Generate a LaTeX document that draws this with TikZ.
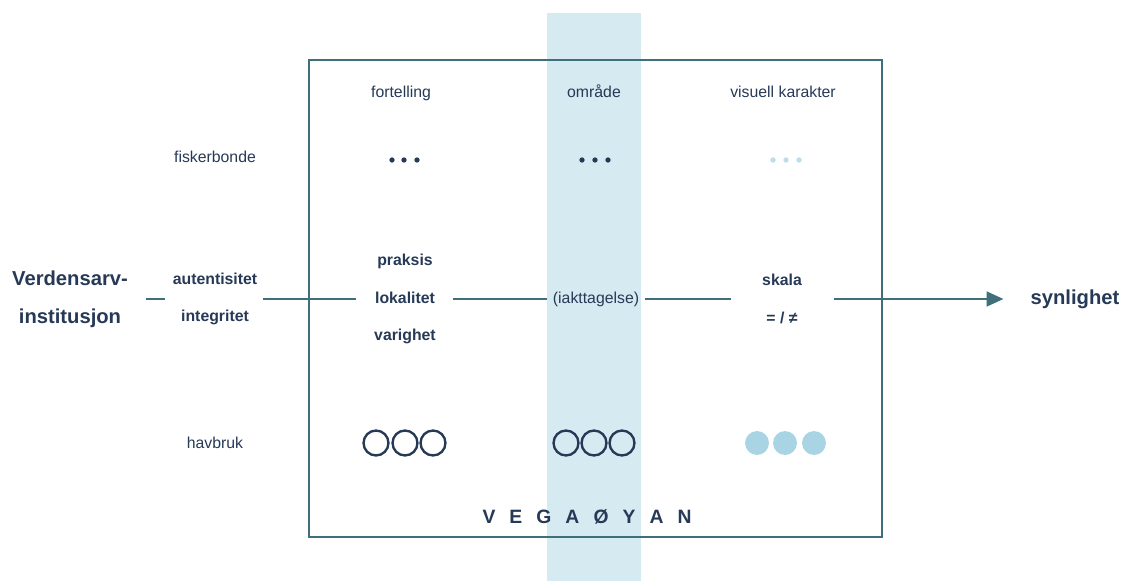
\documentclass[tikz,border=0pt]{standalone}
\usepackage{fontspec}
\setmainfont{Liberation Sans}
\usetikzlibrary{arrows.meta,positioning}

\definecolor{navy}{HTML}{263956}
\definecolor{linecol}{HTML}{3E6F7B}
\definecolor{bandcol}{HTML}{D6EAF2}
\definecolor{pale}{HTML}{A9D4E3}

\tikzset{
  lbl/.style={text=navy, font=\fontsize{9}{11}\selectfont},
  key/.style={text=navy, font=\bfseries\fontsize{9}{21.3}\selectfont, align=center},
  big/.style={text=navy, font=\bfseries\fontsize{11.5}{21.5}\selectfont, align=center},
  conn/.style={color=linecol, line width=0.9pt},
}

\begin{document}
\begin{tikzpicture}[x=0.02cm, y=-0.02cm, >={Triangle[length=9.5pt,width=8.5pt]}]
    \useasboundingbox (0,0) rectangle (1121,581);
    \fill[bandcol] (547,13) rectangle (641,581);
    \draw[linecol, line width=1.1pt] (309,60) rectangle (882,537);

    \node[lbl, anchor=base] (fort) at (401,97) {fortelling};
    \node[lbl, anchor=base] (omr)  at (594,97) {område};
    \node[lbl, anchor=base] (vis)  at (783,97) {visuell karakter};
    \node[lbl] (fisk) at (215,157) {fiskerbonde};
    \node[lbl] (havb) at (215,443) {havbruk};

    \node[big] (verd)  at (70,299)  {Verdensarv-\\institusjon};
    \node[key] (aut)   at (215,299) {autentisitet\\integritet};
    \node[key] (prak)  at (405,299) {praksis\\lokalitet\\varighet};
    \node[lbl] (iakt)  at (596,299) {(iakttagelse)};
    \node[key] (skala) at (782,299) {skala\\= / ≠};
    \node[big] (syn)   at (1075,299) {synlighet};
    \node[text=navy, font=\bfseries\fontsize{11}{13}\selectfont] (vega) at (587,517)
      {V\hspace{8pt}E\hspace{8pt}G\hspace{8pt}A\hspace{8pt}Ø\hspace{8pt}Y\hspace{8pt}A\hspace{8pt}N};

    \path[conn]
    (verd)  edge [shorten <=7pt, shorten >=1pt] (aut)
    (aut)   edge [shorten >=7pt]                (prak)
    (prak)  edge [shorten <=6pt]                (iakt)
    (iakt)  edge [shorten >=14pt]               (skala)
    (skala) edge [->, shorten <=15pt, shorten >=12pt] (syn)
    ;

    % dots and rings
    \foreach \x in {392,404,417,582,595,608}
      \fill[navy] (\x,160) circle (1.5pt);
    \foreach \x in {773,786,799}
      \fill[pale!80] (\x,160) circle (1.5pt);
    \foreach \x in {376,405,433,566,594,622}
      \draw[navy, line width=1.35pt] (\x,443) circle (7.1pt);
    \foreach \x in {757,785,814}
      \fill[pale] (\x,443) circle (6.8pt);
\end{tikzpicture}
\end{document}
